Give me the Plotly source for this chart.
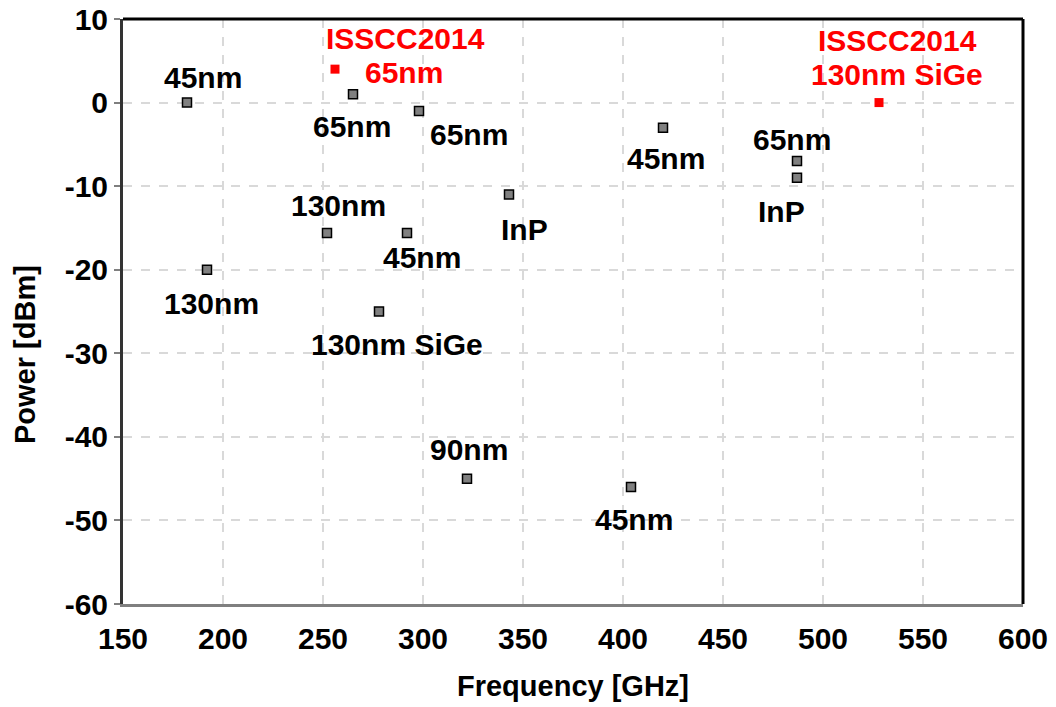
import plotly.graph_objects as go

# Published oscillator / source results: frequency (GHz), output power (dBm), process label
ref_freq = [182, 192, 252, 265, 278, 292, 298, 322, 343, 404, 420, 487, 487]
ref_power = [0, -20, -15.6, 1, -25, -15.6, -1, -45, -11, -46, -3, -7, -9]
ref_label = ["45nm", "130nm", "130nm", "65nm", "130nm SiGe", "45nm", "65nm",
             "90nm", "InP", "45nm", "45nm", "65nm", "InP"]

# This work (ISSCC2014)
new_freq = [256, 528]
new_power = [4, 0]
new_venue = ["ISSCC2014", "ISSCC2014"]
new_process = ["65nm", "130nm SiGe"]

# label offsets in pixels relative to each marker
ref_shift = [(16, 25), (4, -34), (11, 27), (-1, -32), (18, -33), (15, -25), (50, -24),
             (2, 29), (15, -35), (3, -32), (3, -31), (-5, 22), (-16, -34)]
venue_shift = [(70, 31), (18, 62)]
process_shift = [(69, -3), (18, 28)]

x_ticks = [150, 200, 250, 300, 350, 400, 450, 500, 550, 600]
y_ticks = [10, 0, -10, -20, -30, -40, -50, -60]

FONT = "Liberation Sans, Arial, sans-serif"
L, R, T, B = 123, 33, 19, 103
W, H = 1056, 707

fig = go.Figure()
fig.add_trace(go.Scatter(
    x=ref_freq, y=ref_power, mode="markers",
    marker=dict(symbol="square", size=9, color="#808080",
                line=dict(color="black", width=1.5)),
    showlegend=False, hoverinfo="skip"))
fig.add_trace(go.Scatter(
    x=new_freq, y=new_power, mode="markers",
    marker=dict(symbol="square", size=9, color="#ff0000",
                line=dict(width=0)),
    showlegend=False, hoverinfo="skip"))

annotations = []
for x, y, t, (dx, dy) in zip(ref_freq, ref_power, ref_label, ref_shift):
    annotations.append(dict(x=x, y=y, text=t, showarrow=False, xshift=dx, yshift=dy,
                            font=dict(family=FONT, size=30, color="black", weight="bold")))
for texts, shifts in ((new_venue, venue_shift), (new_process, process_shift)):
    for x, y, t, (dx, dy) in zip(new_freq, new_power, texts, shifts):
        annotations.append(dict(x=x, y=y, text=t, showarrow=False, xshift=dx, yshift=dy,
                                font=dict(family=FONT, size=30, color="#ff0000",
                                          weight="bold")))

# y-axis title, placed as a rotated annotation left of the tick labels
pw, ph = W - L - R, H - T - B
annotations.append(dict(
    xref="paper", yref="paper", x=(25 - L) / pw, y=(H - B - 355) / ph,
    xanchor="center", yanchor="middle", textangle=-90, showarrow=False,
    text="Power [dBm]", font=dict(family=FONT, size=29, color="black", weight="bold")))

fig.update_layout(
    width=W, height=H,
    margin=dict(l=L, r=R, t=T, b=B),
    paper_bgcolor="white", plot_bgcolor="white",
    font=dict(family=FONT, size=30, color="black"),
    annotations=annotations,
    xaxis=dict(range=[150, 600], tickvals=x_ticks, ticktext=[str(v) for v in x_ticks],
               automargin=False,
               showgrid=True, gridcolor="#d9d9d9", gridwidth=2, griddash="dash",
               showline=True, linecolor="#7f7f7f", linewidth=3,
               ticks="", zeroline=False, ticklabelstandoff=6,
               tickfont=dict(family=FONT, size=30, color="black", weight="bold"),
               title=dict(text="Frequency [GHz]", standoff=22,
                          font=dict(family=FONT, size=29, color="black", weight="bold"))),
    yaxis=dict(range=[-60, 10], tickvals=y_ticks, ticktext=[str(v) for v in y_ticks],
               automargin=False,
               showgrid=True, gridcolor="#d9d9d9", gridwidth=2, griddash="dash",
               showline=True, linecolor="#333333", linewidth=3,
               ticks="outside", ticklen=6, tickcolor="#7f7f7f", tickwidth=2,
               zeroline=False,
               tickfont=dict(family=FONT, size=30, color="black", weight="bold")),
)

# black frame on the top and right edges of the plot area
fig.add_shape(type="line", xref="paper", yref="paper", x0=0, x1=1, y0=1, y1=1,
              line=dict(color="black", width=3))
fig.add_shape(type="line", xref="paper", yref="paper", x0=1, x1=1, y0=0, y1=1,
              line=dict(color="black", width=3))

fig.write_html("out.html")
